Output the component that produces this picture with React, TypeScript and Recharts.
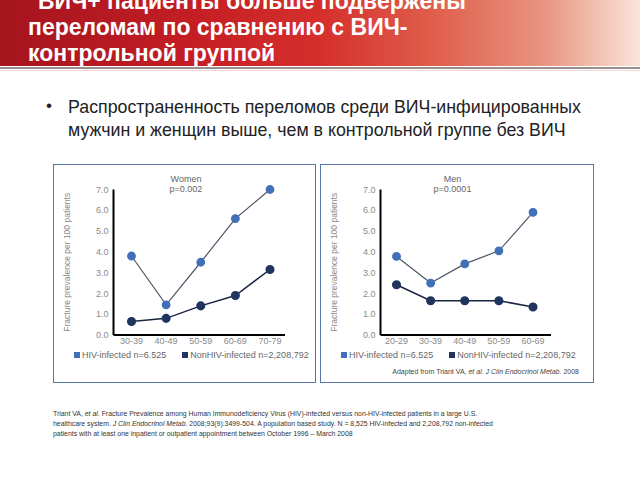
import React from 'react';
import { LineChart, Line, XAxis, YAxis } from 'recharts';

const womenAges = ['30-39', '40-49', '50-59', '60-69', '70-79'];
const womenHiv = [3.8, 1.45, 3.5, 5.6, 7.0];
const womenNonHiv = [0.65, 0.8, 1.4, 1.9, 3.15];

const menAges = ['20-29', '30-39', '40-49', '50-59', '60-69'];
const menHiv = [3.78, 2.5, 3.42, 4.05, 5.9];
const menNonHiv = [2.42, 1.65, 1.65, 1.65, 1.35];

const yTicks = [0, 1, 2, 3, 4, 5, 6, 7];

const HIV_COLOR = '#4170b8';
const NON_COLOR = '#1f355f';
const FONT = '"Liberation Sans", Arial, sans-serif';

const toRows = (ages: string[], hiv: number[], non: number[]) =>
  ages.map((age, i) => ({ age, hiv: hiv[i], non: non[i] }));

interface PanelProps {
  left: number;
  width: number;
  height: number;
  rightMargin: number;
  padL: number;
  padR: number;
  title: string;
  pval: string;
  ages: string[];
  hiv: number[];
  non: number[];
  note?: boolean;
}

function Panel(p: PanelProps) {
  const rows = toRows(p.ages, p.hiv, p.non);
  return (
    <div
      style={{
        position: 'absolute',
        left: p.left,
        top: 164,
        width: p.width,
        height: p.height,
        border: '1.5px solid #5577aa',
        boxSizing: 'border-box',
        fontFamily: FONT,
      }}
    >
      <div style={{ position: 'absolute', left: 0, top: 0 }}>
        <LineChart
          width={p.width - 3}
          height={p.height - 3}
          data={rows}
          margin={{ top: 24.5, right: p.rightMargin, bottom: 26, left: 0 }}
        >
          <XAxis
            dataKey="age"
            axisLine={{ stroke: '#000', strokeWidth: 2 }}
            tickLine={false}
            tickSize={0}
            padding={{ left: p.padL, right: p.padR }}
            tick={{ fill: '#8a8a8a', fontSize: 9, fontFamily: FONT }}
            tickMargin={3}
            height={20}
            interval={0}
          />
          <YAxis
            domain={[0, 7]}
            ticks={yTicks}
            width={59.5}
            axisLine={{ stroke: '#000', strokeWidth: 2 }}
            tickLine={false}
            tickSize={0}
            tickMargin={5}
            tick={{ fill: '#8a8a8a', fontSize: 9, fontFamily: FONT }}
            tickFormatter={(v: number) => v.toFixed(1)}
            label={{
              value: 'Fracture prevalence per 100 patients',
              angle: -90,
              position: 'insideLeft',
              offset: 13,
              fill: '#8a8a8a',
              fontSize: 8.5,
              style: { textAnchor: 'middle' },
            }}
          />
          <Line
            dataKey="hiv"
            stroke="#4e5566"
            strokeWidth={1.2}
            dot={{ r: 3.8, fill: HIV_COLOR, stroke: HIV_COLOR }}
            isAnimationActive={false}
          />
          <Line
            dataKey="non"
            stroke="#1a2540"
            strokeWidth={1.5}
            dot={{ r: 3.8, fill: NON_COLOR, stroke: NON_COLOR }}
            isAnimationActive={false}
          />
        </LineChart>
      </div>
      <div
        style={{
          position: 'absolute',
          left: 0,
          width: p.width - p.rightMargin + 30,
          top: 9,
          textAlign: 'center',
          fontSize: 9,
          lineHeight: '10px',
          color: '#666',
        }}
      >
        {p.title}
        <br />
        {p.pval}
      </div>
      <div
        style={{
          position: 'absolute',
          left: 20,
          top: 185,
          fontSize: 9,
          lineHeight: '11px',
          color: '#666',
          whiteSpace: 'nowrap',
        }}
      >
        <span style={{ display: 'inline-block', width: 6, height: 6, background: HIV_COLOR, marginRight: 2 }} />
        HIV-infected n=6.525
        <span
          style={{ display: 'inline-block', width: 6, height: 6, background: NON_COLOR, marginLeft: 16, marginRight: 2 }}
        />
        NonHIV-infected n=2,208,792
      </div>
      {p.note && (
        <div
          style={{
            position: 'absolute',
            right: 14,
            top: 203,
            fontSize: 7,
            color: '#444',
            whiteSpace: 'nowrap',
          }}
        >
          Adapted from Triant VA, <i>et al.</i> <i>J Clin Endocrinol Metab.</i> 2008
        </div>
      )}
    </div>
  );
}

export default function App() {
  return (
    <div
      style={{
        position: 'absolute',
        left: 0,
        top: 0,
        width: 640,
        height: 480,
        background: '#fff',
        overflow: 'hidden',
        fontFamily: FONT,
      }}
    >
      <div
        style={{
          position: 'absolute',
          left: 0,
          top: 0,
          width: 640,
          height: 66,
          background:
            'linear-gradient(to right, #a5141e 0%, #c41e24 30%, #d52f2c 50%, #df5f4c 68%, #e89580 85%, #fae4da 100%)',
          overflow: 'hidden',
        }}
      >
        <div
          style={{
            position: 'absolute',
            left: 28,
            top: -12,
            color: '#fff',
            fontWeight: 'bold',
            fontSize: 23,
            lineHeight: '26px',
            whiteSpace: 'nowrap',
          }}
        >
          <div style={{ paddingLeft: 10 }}>ВИЧ+ пациенты больше подвержены</div>
          <div>переломам по сравнению с ВИЧ-</div>
          <div>контрольной группой</div>
        </div>
      </div>
      <div style={{ position: 'absolute', left: 0, top: 67, width: 640, height: 2, background: '#9a8f8f' }} />
      <div style={{ position: 'absolute', left: 0, top: 70, width: 640, height: 1, background: '#f0d8d8' }} />

      <div style={{ position: 'absolute', left: 46, top: 96, fontSize: 17, color: '#222' }}>•</div>
      <div
        style={{
          position: 'absolute',
          left: 68,
          top: 96,
          fontSize: 17.8,
          lineHeight: '23px',
          color: '#222',
          whiteSpace: 'nowrap',
        }}
      >
        Распространенность переломов среди ВИЧ-инфицированных
        <br />
        мужчин и женщин выше, чем в контрольной группе без ВИЧ
      </div>

      <Panel
        left={53}
        width={263}
        height={219}
        rightMargin={29}
        padL={18}
        padR={15}
        title="Women"
        pval="p=0.002"
        ages={womenAges}
        hiv={womenHiv}
        non={womenNonHiv}
      />
      <Panel
        left={320}
        width={274}
        height={219}
        rightMargin={41}
        padL={16}
        padR={18}
        title="Men"
        pval="p=0.0001"
        ages={menAges}
        hiv={menHiv}
        non={menNonHiv}
        note
      />

      <div
        style={{
          position: 'absolute',
          left: 53,
          top: 409,
          fontSize: 6.9,
          lineHeight: '10px',
          color: '#333',
          whiteSpace: 'nowrap',
        }}
      >
        Triant VA, <i>et al.</i> Fracture Prevalence among Human Immunodeficiency Virus (HIV)-infected versus non-HIV-infected patients in a large U.S.
        <br />
        healthcare system. <i>J Clin Endocrinol Metab.</i> 2008;93(9):3499-504. A population based study. N = 8,525 HIV-infected and 2,208,792 non-infected
        <br />
        patients with at least one inpatient or outpatient appointment between October 1996 – March 2008
      </div>
    </div>
  );
}
